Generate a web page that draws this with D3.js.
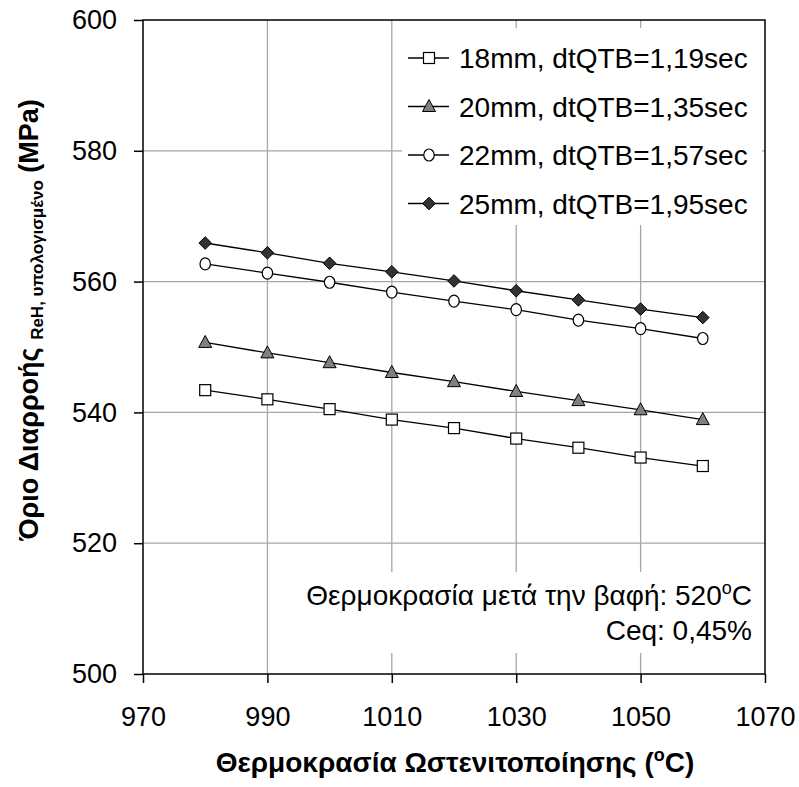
<!DOCTYPE html>
<html>
<head>
<meta charset="utf-8">
<script src="https://cdn.jsdelivr.net/npm/d3@7"></script>
<style>
  body { margin: 0; background: #fff; }
  svg { display: block; font-family: "Liberation Sans", Arial, sans-serif; }
</style>
</head>
<body>
<svg id="chart" width="799" height="787"></svg>
<script>
const temperatures = [980, 990, 1000, 1010, 1020, 1030, 1040, 1050, 1060];
const series18 = [543.4, 542.0, 540.5, 538.9, 537.6, 536.0, 534.6, 533.1, 531.8];
const series20 = [550.7, 549.1, 547.6, 546.1, 544.7, 543.2, 541.8, 540.4, 538.9];
const series22 = [562.7, 561.3, 559.9, 558.4, 557.0, 555.7, 554.1, 552.8, 551.3];
const series25 = [565.9, 564.4, 562.8, 561.5, 560.1, 558.6, 557.2, 555.8, 554.5];
const seriesNames = ["18mm, dtQTB=1,19sec", "20mm, dtQTB=1,35sec", "22mm, dtQTB=1,57sec", "25mm, dtQTB=1,95sec"];
const xTicks = [970, 990, 1010, 1030, 1050, 1070];
const yTicks = [500, 520, 540, 560, 580, 600];

const seriesList = [
  { name: seriesNames[0], values: series18, marker: "square", fill: "#ffffff" },
  { name: seriesNames[1], values: series20, marker: "triangle", fill: "#808080" },
  { name: seriesNames[2], values: series22, marker: "circle", fill: "#ffffff" },
  { name: seriesNames[3], values: series25, marker: "diamond", fill: "#333333" }
];

const svg = d3.select("#chart");
const L = 143, R = 765, T = 20, B = 674;
const x = d3.scaleLinear().domain([970, 1070]).range([L, R]);
const y = d3.scaleLinear().domain([500, 600]).range([B, T]);

// grid
svg.append("g").selectAll("line").data(xTicks.slice(1, -1)).join("line")
  .attr("x1", d => x(d)).attr("x2", d => x(d)).attr("y1", T).attr("y2", B)
  .attr("stroke", "#a6a6a6").attr("stroke-width", 1.3);
svg.append("g").selectAll("line").data(yTicks.slice(1, -1)).join("line")
  .attr("y1", d => y(d)).attr("y2", d => y(d)).attr("x1", L).attr("x2", R)
  .attr("stroke", "#a6a6a6").attr("stroke-width", 1.3);

// white boxes behind legend and annotation
svg.append("rect").attr("x", 402).attr("y", 28).attr("width", 360).attr("height", 197).attr("fill", "#fff");
svg.append("rect").attr("x", 300).attr("y", 572).attr("width", 462).attr("height", 81).attr("fill", "#fff");

// frame
svg.append("rect").attr("x", L).attr("y", T).attr("width", R - L).attr("height", B - T)
  .attr("fill", "none").attr("stroke", "#000").attr("stroke-width", 1.5);

// axes
const xAxis = d3.axisBottom(x).tickValues(xTicks).tickSize(9).tickPadding(24).tickFormat(d3.format("d"));
const gx = svg.append("g").attr("transform", `translate(0,${B})`).call(xAxis);
const yAxis = d3.axisLeft(y).tickValues(yTicks).tickSize(9).tickPadding(17).tickFormat(d3.format("d"));
const gy = svg.append("g").attr("transform", `translate(${L},0)`).call(yAxis);
[gx, gy].forEach(g => {
  g.select(".domain").remove();
  g.selectAll(".tick line").attr("stroke", "#000").attr("stroke-width", 1.5);
  g.selectAll(".tick text").attr("font-size", 27).attr("fill", "#000")
    .attr("font-family", "Liberation Sans, Arial, sans-serif");
});
gx.selectAll(".tick text").attr("dy", null).attr("y", 52);

// marker generator
function drawMarker(sel, type, fill, cx, cy) {
  const g = sel.append("g").attr("transform", `translate(${cx},${cy})`);
  if (type === "square") {
    g.append("rect").attr("x", -5.5).attr("y", -5.5).attr("width", 11).attr("height", 11)
      .attr("fill", fill).attr("stroke", "#000").attr("stroke-width", 1.2);
  } else if (type === "triangle") {
    g.append("path").attr("d", "M0,-7L6.5,5L-6.5,5Z")
      .attr("fill", fill).attr("stroke", "#000").attr("stroke-width", 1);
  } else if (type === "circle") {
    g.append("ellipse").attr("rx", 5.2).attr("ry", 6)
      .attr("fill", fill).attr("stroke", "#000").attr("stroke-width", 1.2);
  } else if (type === "diamond") {
    g.append("path").attr("d", "M0,-6.3L6.3,0L0,6.3L-6.3,0Z")
      .attr("fill", fill).attr("stroke", "#000").attr("stroke-width", 1);
  }
}

const line = d3.line().x((d, i) => x(temperatures[i])).y(d => y(d));
seriesList.forEach(s => {
  svg.append("path").datum(s.values).attr("d", line)
    .attr("fill", "none").attr("stroke", "#000").attr("stroke-width", 1.3);
  const mg = svg.append("g");
  s.values.forEach((v, i) => drawMarker(mg, s.marker, s.fill, x(temperatures[i]), y(v)));
});

// legend
const legY = [58, 106.5, 155, 203.5];
seriesList.forEach((s, i) => {
  const ly = legY[i];
  svg.append("line").attr("x1", 408).attr("x2", 449).attr("y1", ly).attr("y2", ly)
    .attr("stroke", "#000").attr("stroke-width", 1.3);
  drawMarker(svg, s.marker, s.fill, 429, ly);
  svg.append("text").attr("x", 459).attr("y", ly + 10).attr("font-size", 28).attr("fill", "#000")
    .text(s.name);
});

// annotation
const ann1 = svg.append("text").attr("x", 752).attr("y", 605).attr("text-anchor", "end")
  .attr("font-size", 28).attr("fill", "#000");
ann1.append("tspan").text("Θερμοκρασία μετά την βαφή: 520");
ann1.append("tspan").attr("font-size", 18).attr("dy", -11).text("o");
ann1.append("tspan").attr("dy", 11).text("C");
svg.append("text").attr("x", 752).attr("y", 640).attr("text-anchor", "end")
  .attr("font-size", 28).attr("fill", "#000").text("Ceq: 0,45%");

// x title
const xt = svg.append("text").attr("x", 455).attr("y", 772).attr("text-anchor", "middle")
  .attr("font-size", 28).attr("font-weight", "bold").attr("fill", "#000");
xt.append("tspan").text("Θερμοκρασία Ωστενιτοποίησης (");
xt.append("tspan").attr("font-size", 18).attr("dy", -11).text("o");
xt.append("tspan").attr("dy", 11).text("C)");

// y title
const yt = svg.append("text").attr("transform", "translate(38,320) rotate(-90)")
  .attr("text-anchor", "middle").attr("font-size", 27).attr("font-weight", "bold").attr("fill", "#000");
yt.append("tspan").text("Όριο Διαρροής ");
yt.append("tspan").attr("font-size", 17).attr("dy", 5).text("ReH, υπολογισμένο");
yt.append("tspan").attr("dy", -5).text("  (MPa)");
</script>
</body>
</html>
